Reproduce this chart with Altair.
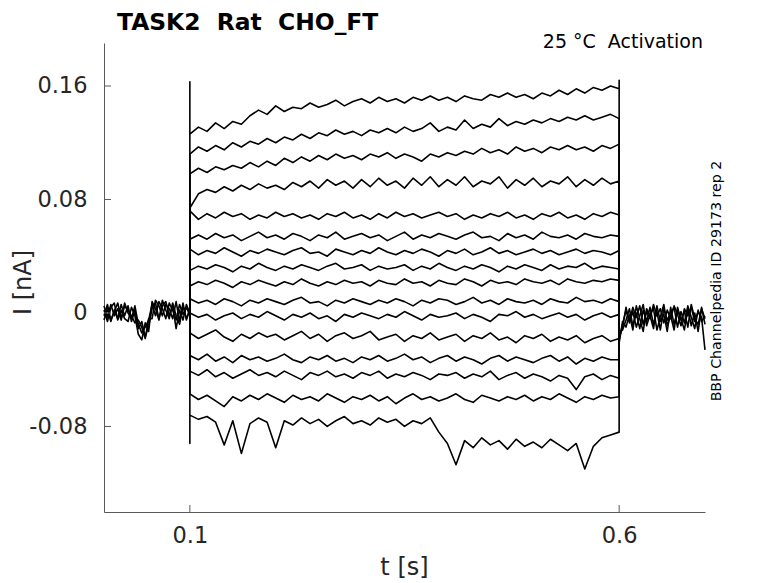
import altair as alt
import pandas as pd

# ---------------- data (currents in pA) ----------------
x_limits = [0.0, 0.7]          # s
y_limits = [-0.1403, 0.1903]   # nA
x_ticks = [0.1, 0.6]
y_ticks = [-0.08, 0.0, 0.08, 0.16]

t_step = [round(0.10 + 0.01 * k, 2) for k in range(51)]
t_pre = [round(0.004 * k, 3) for k in range(26)]
t_post = [round(0.6 + 0.004 * k, 3) for k in range(26)]

T1 = [126,131,128,134,130,135,133,139,143,140,
      146,142,145,144,148,145,147,150,146,149,
      151,148,152,149,151,148,152,150,153,150,
      152,149,153,151,150,154,152,155,152,154,
      151,155,153,157,154,158,155,159,157,160,
      158]
T2 = [112,117,114,118,115,120,117,121,119,123,
      120,124,122,126,123,127,125,129,126,128,
      125,129,127,130,127,131,128,130,134,128,
      131,129,136,130,133,131,137,132,135,133,
      136,134,137,135,138,136,139,136,138,140,
      137]
T3 = [98,102,99,103,101,104,102,106,103,107,
      104,109,106,110,107,111,108,112,109,111,
      108,112,110,113,109,112,110,107,112,110,
      113,111,114,112,116,113,115,112,117,114,
      116,113,117,115,118,115,117,114,118,116,
      119]
T4 = [74,84,87,85,89,86,90,87,91,88,
      90,87,92,89,93,88,94,90,93,88,
      94,89,95,90,93,88,95,90,96,89,
      94,90,96,89,93,91,96,88,94,90,
      95,89,93,91,96,89,94,90,95,91,
      93]
T5 = [72,66,70,67,71,68,70,66,69,67,
      71,68,70,67,69,66,70,68,71,67,
      69,66,70,67,71,68,70,67,69,71,
      68,70,66,69,67,70,68,71,67,69,
      66,70,68,71,67,69,66,70,68,71,
      69]
T6 = [52,55,52,56,53,55,51,54,57,53,
      55,52,56,54,51,55,53,57,52,54,
      56,53,55,51,54,57,52,55,53,56,
      54,52,55,57,53,54,51,56,53,55,
      52,57,54,53,55,52,56,54,53,55,
      54]
T7 = [45,41,44,42,46,43,40,44,42,45,
      43,41,44,46,42,43,40,45,43,41,
      44,42,46,43,41,44,42,45,43,40,
      44,42,45,41,43,46,42,44,41,43,
      45,42,44,41,43,45,42,44,43,41,
      44]
T8 = [30,33,31,34,32,29,33,31,35,32,
      30,33,31,34,32,30,33,35,31,32,
      34,30,33,31,32,34,30,33,31,35,
      32,30,33,31,34,32,29,33,31,34,
      32,30,34,31,33,32,35,31,33,32,
      31]
T9 = [19,22,20,23,21,18,22,20,23,21,
      19,22,20,24,21,19,22,20,23,21,
      22,19,23,21,20,24,21,22,19,23,
      21,20,24,22,19,23,21,22,20,24,
      22,21,23,20,24,22,21,23,22,24,
      23]
T10 = [10,7,9,6,10,8,5,9,7,10,
       8,6,9,11,7,8,5,9,7,10,
       8,6,9,7,10,8,5,9,7,10,
       9,6,8,11,7,9,6,10,8,7,
       9,6,10,8,7,11,8,9,7,10,
       8]
T11 = [0,-3,-1,-5,-2,0,-4,-1,-3,1,
       -2,-5,-1,-3,0,-4,-2,-6,-1,-3,
       0,-2,-4,-1,-3,1,-2,-5,-1,-3,
       -2,0,-4,-1,-3,-6,-1,-2,1,-3,
       -1,-4,-2,0,-3,-1,-5,-2,0,-3,
       -1]
T12 = [-14,-18,-15,-12,-17,-20,-15,-18,-14,-17,
       -15,-19,-16,-13,-18,-15,-20,-16,-14,-18,
       -16,-13,-19,-17,-15,-20,-16,-18,-14,-19,
       -17,-15,-20,-16,-18,-14,-19,-17,-21,-16,
       -18,-15,-20,-17,-19,-16,-21,-18,-16,-20,
       -18]
T13 = [-30,-33,-29,-34,-31,-35,-30,-33,-31,-34,
       -32,-29,-33,-35,-31,-33,-30,-34,-32,-35,
       -31,-33,-30,-34,-32,-29,-33,-31,-35,-32,
       -30,-34,-31,-33,-36,-32,-30,-34,-31,-33,
       -35,-32,-30,-34,-31,-36,-32,-34,-31,-33,
       -33]
T14 = [-41,-44,-40,-45,-42,-46,-43,-40,-44,-42,
       -45,-41,-44,-47,-42,-44,-41,-45,-43,-46,
       -42,-44,-41,-46,-43,-45,-42,-44,-47,-43,
       -44,-42,-46,-43,-45,-41,-47,-44,-42,-46,
       -43,-45,-48,-44,-46,-54,-45,-43,-47,-44,
       -46]
T15 = [-57,-61,-58,-62,-66,-59,-62,-58,-61,-57,
       -60,-63,-58,-61,-59,-62,-57,-60,-63,-59,
       -61,-58,-62,-59,-64,-60,-57,-61,-59,-62,
       -60,-57,-61,-63,-58,-60,-62,-59,-61,-58,
       -62,-59,-61,-57,-60,-63,-59,-61,-58,-60,
       -59]
T16 = [-72,-75,-73,-77,-93,-76,-99,-78,-74,-77,
       -95,-76,-79,-74,-78,-75,-80,-76,-73,-78,
       -76,-79,-74,-77,-75,-80,-76,-78,-74,-84,
       -92,-107,-90,-95,-88,-93,-90,-96,-89,-94,
       -91,-95,-89,-93,-97,-92,-110,-94,-88,-86,
       -84]
step_traces = [T1, T2, T3, T4, T5, T6, T7, T8, T9, T10, T11, T12, T13, T14, T15, T16]

# capacitive spikes at step on / off (pA), by trace index
spike_on = {0: 163, 15: -92}
spike_off = {0: 164}

# holding-potential segments before and after the step (pA)
H1 = [5,-3,6,-2,3,-5,7,0,-4,5, -8,-14,-10,-5, 6,-2,8,3,-4,7, 2,-5,6,-1,4,-2]
H2 = [-5,3,-6,2,-4,6,-2,5,-6,2, -11,-6,-17,-9, 3,7,-4,5,8,-2, 5,-11,2,-5,6,0]
H3 = [2,-6,4,7,-5,2,-4,-6,4,-2, -15,-19,-7,-13, 8,3,-5,9,2,-4, 7,-2,-8,5,-4,2]
H4 = [-2,6,-5,1,7,-4,5,2,-2,-7, -5,-10,-18,-4, -4,9,5,-2,6,3, -4,8,-6,7,-5,3]
pre_traces = [H1, H2, H3, H4]

P1 = [-19,-8,2,-6,4,-3,5,-8,1,-4, 6,-2,3,-7,2,-4,5,-1,-9,3, -2,4,-6,1,-3,-26]
P2 = [-14,-12,-5,3,-9,0,-11,2,-6,4, -8,1,-12,3,-5,0,4,-10,1,-7, 5,-3,-11,2,-6,-2]
P3 = [-21,-6,-10,-1,-12,5,-4,-13,3,-2, -11,5,-6,-1,-13,4,-8,2,-4,-12, 3,-9,0,-13,4,-8]
P4 = [-17,-10,4,-7,1,-10,-2,6,-9,-1, 3,-12,-3,6,-9,-2,-12,4,-5,1, -10,6,-4,-8,3,-4]
post_traces = [P1, P2, P3, P4]

NB = "\u00a0"
title_text = "TASK2 " + NB + "Rat " + NB + "CHO_FT"
corner_text = "25 °C " + NB + "Activation"
side_text = "BBP Channelpedia ID 29173 rep 2"

# ---------------- build table ----------------
rows = []
for j, vals in enumerate(step_traces):
    seq = [(0.1, 0.0)]
    if j in spike_on:
        seq.append((0.1, spike_on[j]))
    seq += list(zip(t_step, vals))
    if j in spike_off:
        seq.append((0.6, spike_off[j]))
    seq.append((0.6, 0.0))
    for i, (t, v) in enumerate(seq):
        rows.append({"t": t, "I": v / 1000.0, "trace": f"s{j}", "i": i})
for j, vals in enumerate(pre_traces):
    for i, (t, v) in enumerate(zip(t_pre, vals)):
        rows.append({"t": t, "I": v / 1000.0, "trace": f"pre{j}", "i": i})
for j, vals in enumerate(post_traces):
    for i, (t, v) in enumerate(zip(t_post, vals)):
        rows.append({"t": t, "I": v / 1000.0, "trace": f"post{j}", "i": i})
df = pd.DataFrame(rows)

FONT = "DejaVu Sans"
AX = "#5a5a5a"
TXT = "#262626"
W, H = 601, 469

xscale = alt.Scale(domain=x_limits, nice=False, zero=False)
yscale = alt.Scale(domain=y_limits, nice=False, zero=False)

x_axis = alt.Axis(
    values=x_ticks, labelExpr="format(datum.value, '.1f')", ticks=False, grid=False,
    domainColor=AX, domainWidth=1, labelFontSize=22.5, labelColor=TXT, labelPadding=12,
    labelFont=FONT, title="t [s]", titleFont=FONT, titleFontSize=24,
    titleFontWeight="normal", titleColor=TXT, titleX=300, titleY=62,
    titleBaseline="alphabetic")
y_axis = alt.Axis(
    values=y_ticks,
    labelExpr="datum.value == 0 ? '0' : (datum.value < 0 ? '-' + format(-datum.value, '.2f') : format(datum.value, '.2f'))",
    ticks=False, grid=False, domainColor=AX, domainWidth=1, labelFontSize=22.5,
    labelColor=TXT, labelPadding=17, labelFont=FONT, title="I [nA]", titleFont=FONT,
    titleFontSize=24, titleFontWeight="normal", titleColor=TXT, titleX=-74, titleY=239,
    titleAngle=270, titleBaseline="alphabetic", titleAlign="center")

lines = alt.Chart(df).mark_line(color="black", strokeWidth=1.6, strokeJoin="round").encode(
    x=alt.X("t:Q", scale=xscale, axis=x_axis),
    y=alt.Y("I:Q", scale=yscale, axis=y_axis),
    detail="trace:N",
    order="i:Q",
)

xt = alt.Chart(pd.DataFrame({"t": x_ticks})).mark_rule(color=AX, strokeWidth=1).encode(
    x=alt.X("t:Q", scale=xscale, axis=x_axis), y=alt.value(H), y2=alt.value(H - 7))
yt = alt.Chart(pd.DataFrame({"I": y_ticks})).mark_rule(color=AX, strokeWidth=1).encode(
    y=alt.Y("I:Q", scale=yscale, axis=y_axis), x=alt.value(0), x2=alt.value(7))

title_mark = alt.Chart(pd.DataFrame({"s": [title_text]})).mark_text(
    align="left", baseline="alphabetic", font=FONT, fontSize=23.4, fontWeight="bold",
    color="black").encode(text="s:N", x=alt.value(13), y=alt.value(-13))
corner_mark = alt.Chart(pd.DataFrame({"s": [corner_text]})).mark_text(
    align="right", baseline="alphabetic", font=FONT, fontSize=19, color="black"
).encode(text="s:N", x=alt.value(599), y=alt.value(5))
side_mark = alt.Chart(pd.DataFrame({"s": [side_text]})).mark_text(
    align="center", baseline="middle", font=FONT, fontSize=14.2, angle=270, color="black"
).encode(text="s:N", x=alt.value(613), y=alt.value(238))

chart = alt.layer(lines, xt, yt, title_mark, corner_mark, side_mark).properties(
    width=W, height=H,
    autosize=alt.AutoSizeParams(type="none"),
    padding={"left": 96, "top": 35, "right": 65, "bottom": 75},
).configure(background="white", font=FONT).configure_view(stroke=None)

chart.save("out.html", embed_options={"renderer": "svg", "actions": False})
